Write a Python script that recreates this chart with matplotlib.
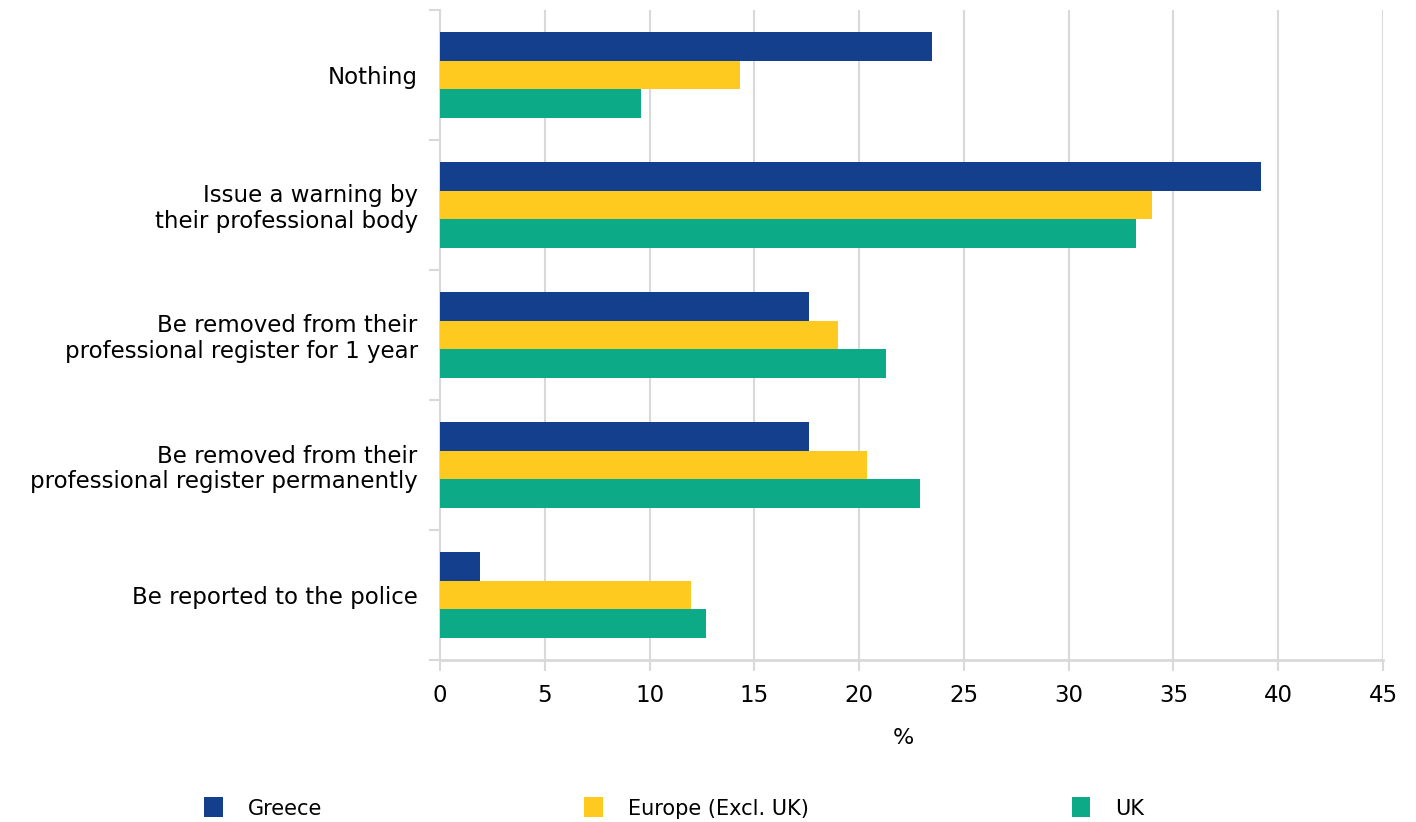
import matplotlib.pyplot as plt
from matplotlib.patches import Patch
import numpy as np

plt.rcParams['font.family'] = ['DejaVu Sans']

categories = [
    'Nothing',
    'Issue a warning by\ntheir professional body',
    'Be removed from their\nprofessional register for 1 year',
    'Be removed from their\nprofessional register permanently',
    'Be reported to the police',
]
series_names = ['Greece', 'Europe (Excl. UK)', 'UK']
greece = [23.5, 39.2, 17.6, 17.6, 1.9]
europe = [14.3, 34.0, 19.0, 20.4, 12.0]
uk = [9.6, 33.2, 21.3, 22.9, 12.7]
colors = ['#143f8c', '#ffca1f', '#0daa88']
x_ticks = list(range(0, 50, 5))

fig = plt.figure(figsize=(14.16, 8.22), dpi=100)
ax = fig.add_axes([0.3107, 0.197, 0.666, 0.791])

y = np.arange(len(categories))
h = 0.22
for i, (vals, c) in enumerate(zip([greece, europe, uk], colors)):
    ax.barh(y + (i - 1) * h, vals, height=h, color=c, edgecolor='none', zorder=3)

ax.set_ylim(len(categories) - 0.5, -0.5)
ax.set_xlim(0, 45)
ax.set_xticks(x_ticks)
ax.set_yticks(y)
ax.set_yticklabels(categories, fontsize=16.5, ha='right', multialignment='right',
                   linespacing=1.15)
ax.set_yticks(np.arange(-0.5, len(categories)), minor=True)
ax.tick_params(axis='y', which='major', length=0, pad=16)
ax.tick_params(axis='y', which='minor', length=8, width=1.5, color='#d9d9d9')
ax.tick_params(axis='x', length=8, width=1.5, color='#d9d9d9', labelsize=16.5, pad=9)

ax.grid(axis='x', color='#d9d9d9', linewidth=1.5, zorder=0)
for s in ['top', 'right']:
    ax.spines[s].set_visible(False)
ax.spines['left'].set_color('#d9d9d9')
ax.spines['left'].set_linewidth(1.5)
ax.spines['bottom'].set_color('#d9d9d9')
ax.spines['bottom'].set_linewidth(2)
ax.set_xlabel('%', fontsize=16)
ax.xaxis.set_label_coords(0.491, -0.105)

handles = [Patch(facecolor=c, edgecolor='none') for c in colors]
fig.legend(handles, series_names, loc='center', bbox_to_anchor=(0.476, 0.017),
           ncol=3, frameon=False, fontsize=15, handlelength=0.9, handleheight=1.1,
           handletextpad=1.2, columnspacing=12.6)

fig.savefig('out.png', dpi=100)
